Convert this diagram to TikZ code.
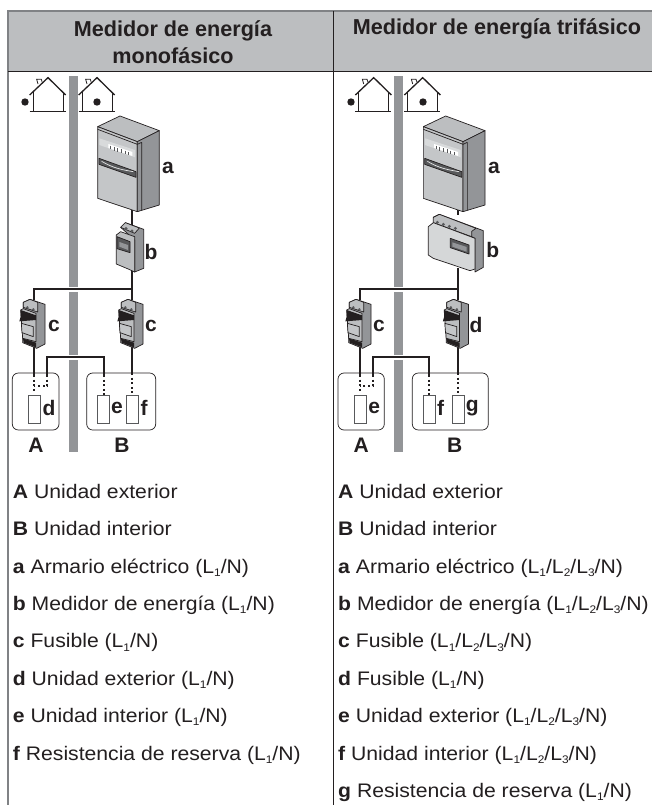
\documentclass[tikz,border=0pt]{standalone}
\usepackage{fontspec}
\setmainfont{Liberation Sans}
\newfontfamily\itemfont[FakeStretch=1.08]{Liberation Sans}
\definecolor{ink}{HTML}{231F20}
\definecolor{hdr}{HTML}{BCBEC0}
\definecolor{pole}{HTML}{939598}
\definecolor{rulec}{HTML}{808285}
\definecolor{face}{HTML}{C4C6C8}
\definecolor{sidec}{HTML}{939598}
\definecolor{dark}{HTML}{58595B}
\definecolor{lite}{HTML}{E6E7E8}
\tikzset{
  wire/.style={draw=ink,line width=2pt},
  dotwire/.style={draw=ink,line width=2pt,dash pattern=on 2pt off 2.6pt},
  polebar/.style={fill=pole,draw=none},
  gridline/.style={draw=rulec,line width=1.5pt},
  darkline/.style={draw=ink,line width=1pt},
  house/.style={draw=ink,line width=.8pt},
  devline/.style={draw=ink,line width=.7pt,line join=round},
  unitbox/.style={draw=ink,line width=.7pt,rounded corners=6pt},
  element/.style={draw=dark,line width=.9pt,fill=white,minimum width=12pt,minimum height=28pt,inner sep=0pt},
  lab/.style={font=\fontsize{21}{24}\selectfont\bfseries,text=ink,inner sep=0pt},
  head/.style={font=\fontsize{21.6}{27}\selectfont\bfseries,text=ink,inner sep=0pt,align=center},
  item/.style={font=\itemfont\fontsize{19.6}{22}\selectfont,text=ink,inner sep=0pt,anchor=base west},
  zoomed/.style={x=.33333pt,y=-.33333pt}
}
\newcommand{\Sb}[1]{\raisebox{-3.2pt}{\fontsize{11}{11}\selectfont #1}}
\newcommand{\Lone}{L\Sb{1}}
\newcommand{\Ltwo}{L\Sb{2}}
\newcommand{\Lthree}{L\Sb{3}}
\newcommand{\HouseAt}[2]{\begin{scope}[shift={(#1,#2)},zoomed]
  \draw[house,line width=1.3pt] (-55,30) -- (0,-22) -- (53,30);
  \draw[house] (-45,22) -- (-45,78) (45,22) -- (45,78) (-55,78) -- (53,78);
  \draw[house] (-30,-3) -- (-34,-17) -- (-20,-17) -- (-18,-10);
\end{scope}}
\newcommand{\CabinetAt}[2]{\begin{scope}[shift={(#1,#2)},zoomed]
  \filldraw[devline,fill=hdr] (293,170) -- (360,138) -- (478,182) -- (412,215) -- cycle;
  \filldraw[devline,fill=face] (293,170) -- (412,215) -- (412,425) -- (293,385) -- cycle;
  \filldraw[devline,fill=sidec] (412,215) -- (478,182) -- (478,405) -- (412,425) -- cycle;
  \draw[devline] (293,178) -- (412,223) -- (425,217) (425,217) -- (425,420);
  \fill[lite!60!face] (298,205) -- (405,240) -- (405,262) -- (298,225) -- cycle;
  \fill[white] (325,222) -- (397,246) -- (397,258) -- (325,234) -- cycle;
  \foreach \i in {0,...,5} {\draw[dark,line width=.6pt] (331+\i*11,227+\i*3.7) -- +(0,11);}
  \filldraw[devline,fill=dark] (297,265) -- (408,305) -- (408,322) -- (297,283) -- cycle;
  \draw[lite,line width=.7pt] (305,274) .. controls (340,295) and (370,300) .. (400,305);
\end{scope}}
\newcommand{\MeterSingleAt}[2]{\begin{scope}[shift={(#1,#2)},zoomed]
  \filldraw[devline,fill=sidec] (362,472) -- (376,458) -- (431,478) -- (431,595) -- (404,606) -- (404,510) -- cycle;
  \filldraw[devline,fill=hdr] (362,472) -- (376,458) -- (418,474) -- (404,490) -- cycle;
  \filldraw[devline,fill=hdr] (349,495) -- (362,485) -- (404,500) -- (404,606) -- (387,598) -- (349,582) -- cycle;
  \filldraw[devline,fill=dark] (351,500) -- (390,515) -- (390,548) -- (351,536) -- cycle;
  \fill[sidec] (358,516) -- (384,525) -- (384,540) -- (358,530) -- cycle;
  \fill[dark] (378,476) circle (5) (396,483) circle (5);
\end{scope}}
\newcommand{\MeterThreeAt}[2]{\begin{scope}[shift={(#1,#2)},zoomed]
  \filldraw[devline,fill=sidec] (280,442) -- (298,433) -- (430,482) -- (430,592) -- (405,606) -- (405,505) -- cycle;
  \filldraw[devline,fill=hdr] (280,442) -- (298,433) -- (408,475) -- (395,484) -- (395,500) -- (280,458) -- cycle;
  \filldraw[devline,fill=lite!50!face] (265,470) -- (280,458) -- (405,505) -- (405,597) -- (390,602) -- (280,565) -- (265,555) -- cycle;
  \filldraw[devline,fill=dark] (331,505) -- (387,525) -- (387,552) -- (331,533) -- cycle;
  \fill[sidec] (337,517) -- (380,531) -- (380,545) -- (337,530) -- cycle;
  \foreach \i in {0,1,2,3} {\fill[dark] (292+\i*18,457+\i*6) circle (5);}
\end{scope}}
\newcommand{\FuseAt}[2]{\begin{scope}[shift={(#1,#2)},zoomed]
  \filldraw[devline,fill=sidec] (70,97) -- (90,88) -- (135,103) -- (135,222) -- (110,235) -- (68,218) -- cycle;
  \filldraw[devline,fill=hdr] (70,97) -- (90,88) -- (113,97) -- (113,126) -- (70,112) -- cycle;
  \filldraw[devline,fill=hdr] (62,120) -- (70,116) -- (108,130) -- (108,215) -- (68,205) -- cycle;
  \fill[ink] (62,120) -- (108,136) -- (108,150) -- (58,154) -- (62,140) -- cycle;
  \filldraw[devline,fill=face] (64,160) -- (100,170) -- (100,200) -- (66,188) -- cycle;
  \fill[ink] (68,205) -- (108,218) -- (108,232) -- (72,218) -- cycle;
  \fill[dark] (82,112) circle (4) (100,118) circle (4);
\end{scope}}
\begin{document}
\begin{tikzpicture}[x=1pt,y=-1pt]
\useasboundingbox (0,0) rectangle (652,805);
\fill[white] (0,0) rectangle (652,805);
% table
\fill[hdr] (8,11) rectangle (652,72);
\draw[gridline] (7.3,11) -- (652,11);
\draw[gridline] (8,11) -- (8,805);
\draw[darkline] (333.5,11) -- (333.5,805);
\draw[darkline] (8,72) -- (652,72);
\node[head] (h1) at (173,42.5) {Medidor de energía\\monofásico};
\node[head] (h2) at (497,29) {Medidor de energía trifásico};
% poles
\foreach \x in {69,394.2} {
  \fill[polebar] (\x,76) rectangle (\x+9,287);
  \fill[polebar] (\x,292) rectangle (\x+9,355);
  \fill[polebar] (\x,360) rectangle (\x+9,452);
}
% left column
\HouseAt{48}{85}\HouseAt{97}{85}
\fill[ink] (25,102) circle (3.7) (97,102) circle (3.7);
\coordinate (cL) at (132.3,210); \coordinate (mLt) at (132.3,228); \coordinate (mLb) at (132.3,270);
\coordinate (jL) at (132.3,289.3); \coordinate (jL2) at (34,289.3);
\coordinate (fAt) at (34,300); \coordinate (fAb) at (34,347); \coordinate (fBt) at (132.3,300); \coordinate (fBb) at (132.3,347);
\draw[wire] (cL) -- (mLt) (mLb) -- (jL) -- (jL2) -- (fAt) (jL) -- (fBt);
\draw[wire] (fAb) -- (34,375) coordinate (a1);
\draw[wire] (47.3,375) coordinate (a2) -- (47.3,357.3) -- (104,357.3) -- (104,375) coordinate (a3);
\draw[wire] (fBb) -- (132.3,373) coordinate (a4);
\draw[dotwire] (a1) -- (34,392); \draw[dotwire] (a2) -- (47.3,386) -- (34,386);
\draw[dotwire] (a3) -- (104,395); \draw[dotwire] (a4) -- (132.3,395);
\CabinetAt{0}{70}\MeterSingleAt{0}{70}\FuseAt{0}{270}\FuseAt{98}{270}
\draw[unitbox] (12.3,373) rectangle (59,430);
\draw[unitbox] (86.7,373) rectangle (155.7,430);
\node[element] (d1) at (34.3,409) {};
\node[element] (e1) at (103.7,409) {};
\node[element] (f1) at (132.5,409) {};
\node[lab] at (168,168) {a}; \node[lab] at (151,252) {b}; \node[lab] at (54,326) {c}; \node[lab] at (151,326) {c};
\node[lab] at (49,408) {d}; \node[lab] at (117,408) {e}; \node[lab] at (144,408) {f};
\node[lab] at (36,445) {A}; \node[lab] at (122,445) {B};
% right column
\HouseAt{373.7}{85}\HouseAt{422.7}{85}
\fill[ink] (351,102) circle (3.7) (423,102) circle (3.7);
\coordinate (cR) at (457.7,210); \coordinate (mRt) at (457.7,215); \coordinate (mRb) at (457.7,268);
\coordinate (jR) at (457.7,289.3); \coordinate (jR2) at (360,289.3);
\coordinate (gAt) at (360,300); \coordinate (gAb) at (360,347); \coordinate (gBt) at (457.7,300); \coordinate (gBb) at (457.7,347);
\draw[wire] (cR) -- (mRt) (mRb) -- (jR) -- (jR2) -- (gAt) (jR) -- (gBt);
\draw[wire] (gAb) -- (360,375) coordinate (b1);
\draw[wire] (372.7,375) coordinate (b2) -- (372.7,357.3) -- (429.3,357.3) -- (429.3,375) coordinate (b3);
\draw[wire] (gBb) -- (457.7,373) coordinate (b4);
\draw[dotwire] (b1) -- (360,392); \draw[dotwire] (b2) -- (372.7,386) -- (360,386);
\draw[dotwire] (b3) -- (429.3,395); \draw[dotwire] (b4) -- (457.7,395);
\CabinetAt{325.7}{70}\MeterThreeAt{340}{70}\FuseAt{326}{270}\FuseAt{423.5}{270}
\draw[unitbox] (338,373) rectangle (384.3,430);
\draw[unitbox] (412.3,373) rectangle (488.3,430);
\node[element] (e2) at (360,409) {};
\node[element] (f2) at (429.3,409) {};
\node[element] (g2) at (458,409) {};
\node[lab] at (494,168) {a}; \node[lab] at (492.7,250) {b}; \node[lab] at (379,326) {c}; \node[lab] at (476,325) {d};
\node[lab] at (374.3,408) {e}; \node[lab] at (440.7,408) {f}; \node[lab] at (472.3,408) {g};
\node[lab] at (361.3,445) {A}; \node[lab] at (454.7,445) {B};
% lists
\node[item] at (12.7,498.2) {\textbf{A} Unidad exterior};
\node[item] at (12.7,535.6) {\textbf{B} Unidad interior};
\node[item] at (12.7,573) {\textbf{a} Armario eléctrico (\Lone/N)};
\node[item] at (12.7,610.4) {\textbf{b} Medidor de energía (\Lone/N)};
\node[item] at (12.7,647.8) {\textbf{c} Fusible (\Lone/N)};
\node[item] at (12.7,685.2) {\textbf{d} Unidad exterior (\Lone/N)};
\node[item] at (12.7,722.6) {\textbf{e} Unidad interior (\Lone/N)};
\node[item] at (12.7,760) {\textbf{f} Resistencia de reserva (\Lone/N)};
\node[item] at (338,498.2) {\textbf{A} Unidad exterior};
\node[item] at (338,535.6) {\textbf{B} Unidad interior};
\node[item] at (338,573) {\textbf{a} Armario eléctrico (\Lone/\Ltwo/\Lthree/N)};
\node[item] at (338,610.4) {\textbf{b} Medidor de energía (\Lone/\Ltwo/\Lthree/N)};
\node[item] at (338,647.8) {\textbf{c} Fusible (\Lone/\Ltwo/\Lthree/N)};
\node[item] at (338,685.2) {\textbf{d} Fusible (\Lone/N)};
\node[item] at (338,722.6) {\textbf{e} Unidad exterior (\Lone/\Ltwo/\Lthree/N)};
\node[item] at (338,760) {\textbf{f} Unidad interior (\Lone/\Ltwo/\Lthree/N)};
\node[item] at (338,797.4) {\textbf{g} Resistencia de reserva (\Lone/N)};
\end{tikzpicture}
\end{document}
